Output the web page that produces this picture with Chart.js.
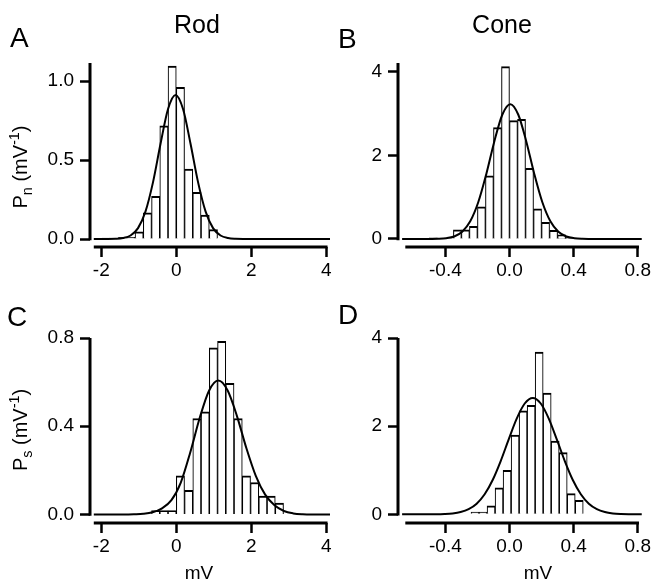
<!DOCTYPE html>
<html lang="en">
<head>
<meta charset="utf-8">
<title>Rod and cone response histograms</title>
<script src="https://cdn.jsdelivr.net/npm/chart.js@4/dist/chart.umd.min.js"></script>
<style>
  html, body { margin: 0; padding: 0; background: #fff; }
  #figure {
    position: relative; width: 658px; height: 584px; overflow: hidden;
    font-family: "Liberation Sans", Arial, Helvetica, sans-serif; color: #000;
  }
  #figure canvas { position: absolute; }
  .txt { position: absolute; line-height: 1; white-space: nowrap; }
  .letter { font-size: 28px; }
  .col-title { font-size: 25px; transform: translateX(-50%); }
  .x-title { font-size: 19px; transform: translateX(-50%); }
  .y-title { font-size: 20px; transform: translate(-50%, -50%) rotate(-90deg); }
  .y-title sub, .y-title sup { font-size: 0.72em; line-height: 0; }
</style>
</head>
<body>
<div id="figure">
  <canvas id="panelA" width="340" height="260" style="left:0;top:40px"></canvas>
  <canvas id="panelB" width="328" height="260" style="left:330px;top:40px"></canvas>
  <canvas id="panelC" width="340" height="260" style="left:0;top:310px"></canvas>
  <canvas id="panelD" width="328" height="260" style="left:330px;top:310px"></canvas>

  <div class="txt letter" style="left:10px;top:24px">A</div>
  <div class="txt letter" style="left:338px;top:25px">B</div>
  <div class="txt letter" style="left:7px;top:303px">C</div>
  <div class="txt letter" style="left:338px;top:301px">D</div>
  <div class="txt col-title" style="left:197px;top:12px">Rod</div>
  <div class="txt col-title" style="left:502px;top:12px">Cone</div>
  <div class="txt y-title" style="left:20px;top:167px">P<sub>n</sub> (mV<sup>-1</sup>)</div>
  <div class="txt y-title" style="left:20px;top:430px">P<sub>s</sub> (mV<sup>-1</sup>)</div>
  <div class="txt x-title" style="left:199px;top:563px">mV</div>
  <div class="txt x-title" style="left:538px;top:563px">mV</div>
</div>

<script>
// --- Data ---

// A: rod, noise trials (bins 0.22 mV wide, values are bin centres)
const rodNoiseBins    = [-1.87, -1.43, -1.21, -0.99, -0.77, -0.55, -0.33, -0.11, 0.11, 0.33, 0.55, 0.77, 0.99];
const rodNoiseDensity = [0.006, 0.01, 0.01, 0.045, 0.165, 0.27, 0.717, 1.095, 0.96, 0.443, 0.295, 0.152, 0.059];
const rodNoiseFitX = [-2.2, -1.82, -1.62, -1.42, -1.22, -1.02, -0.82, -0.62, -0.42, -0.22, -0.02, 0.18, 0.38, 0.58, 0.78, 0.98, 1.18, 1.38, 1.58, 1.78, 4.1];
const rodNoiseFitY = [0, 0, 0.001, 0.006, 0.022, 0.069, 0.175, 0.36, 0.603, 0.823, 0.912, 0.823, 0.603, 0.36, 0.175, 0.069, 0.022, 0.006, 0.001, 0, 0];

// B: cone, noise trials (bins 0.05 mV)
const coneNoiseBins    = [-0.475, -0.325, -0.275, -0.225, -0.175, -0.125, -0.075, -0.025, 0.025, 0.075, 0.125, 0.175, 0.225, 0.275, 0.325, 0.375];
const coneNoiseDensity = [0.03, 0.22, 0.22, 0.3, 0.77, 1.51, 2.66, 4.12, 2.83, 2.86, 1.69, 0.72, 0.4, 0.21, 0.1, 0.04];
const coneNoiseFitX = [-0.67, -0.545, -0.495, -0.445, -0.395, -0.345, -0.295, -0.245, -0.195, -0.145, -0.095, -0.045, 0.005, 0.055, 0.105, 0.155, 0.205, 0.255, 0.305, 0.355, 0.405, 0.455, 0.505, 0.555, 0.825];
const coneNoiseFitY = [0, 0, 0.001, 0.004, 0.018, 0.06, 0.173, 0.422, 0.877, 1.549, 2.326, 2.969, 3.22, 2.969, 2.326, 1.549, 0.877, 0.422, 0.173, 0.06, 0.018, 0.004, 0.001, 0, 0];

// C: rod, signal trials (bins 0.22 mV)
const rodSignalBins    = [-0.55, -0.33, -0.11, 0.11, 0.33, 0.55, 0.77, 0.99, 1.21, 1.43, 1.65, 1.87, 2.09, 2.31, 2.53, 2.75];
const rodSignalDensity = [0.018, 0.018, 0.018, 0.175, 0.11, 0.435, 0.465, 0.755, 0.785, 0.595, 0.435, 0.175, 0.145, 0.083, 0.083, 0.052];
const rodSignalFitX = [-2.2, -1.38, -1.13, -0.88, -0.63, -0.38, -0.13, 0.12, 0.37, 0.62, 0.87, 1.12, 1.37, 1.62, 1.87, 2.12, 2.37, 2.62, 2.87, 3.12, 3.37, 3.62, 4.1];
const rodSignalFitY = [0, 0, 0.001, 0.003, 0.01, 0.028, 0.065, 0.145, 0.28, 0.435, 0.56, 0.607, 0.562, 0.445, 0.3, 0.175, 0.09, 0.042, 0.016, 0.005, 0.001, 0, 0];

// D: cone, signal trials (bins 0.05 mV)
const coneSignalBins    = [-0.215, -0.165, -0.115, -0.065, -0.015, 0.035, 0.085, 0.135, 0.185, 0.235, 0.285, 0.335, 0.385, 0.435];
const coneSignalDensity = [0.05, 0.05, 0.19, 0.6, 1.0, 1.8, 2.35, 2.47, 3.68, 2.75, 1.66, 1.4, 0.47, 0.32];
const coneSignalFitX = [-0.67, -0.455, -0.405, -0.355, -0.305, -0.255, -0.205, -0.155, -0.105, -0.055, -0.005, 0.045, 0.095, 0.145, 0.195, 0.245, 0.295, 0.345, 0.395, 0.445, 0.495, 0.545, 0.595, 0.645, 0.695, 0.745, 0.825];
const coneSignalFitY = [0, 0.002, 0.007, 0.02, 0.051, 0.116, 0.241, 0.455, 0.779, 1.209, 1.701, 2.172, 2.514, 2.64, 2.514, 2.172, 1.701, 1.209, 0.779, 0.455, 0.241, 0.116, 0.051, 0.02, 0.007, 0.002, 0];

// Ticks
const rodTicksX = [-2, 0, 2, 4];
const rodTickLabelsX = ['-2', '0', '2', '4'];
const coneTicksX = [-0.4, 0, 0.4, 0.8];
const coneTickLabelsX = ['-0.4', '0.0', '0.4', '0.8'];
const rodNoiseTicksY = [0, 0.5, 1.0];
const rodNoiseTickLabelsY = ['0.0', '0.5', '1.0'];
const rodSignalTicksY = [0, 0.4, 0.8];
const rodSignalTickLabelsY = ['0.0', '0.4', '0.8'];
const coneTicksY = [0, 2, 4];
const coneTickLabelsY = ['0', '2', '4'];

Chart.defaults.font.family = '"Liberation Sans", Arial, Helvetica, sans-serif';
Chart.defaults.font.size = 19;
Chart.defaults.color = '#000';

// Igor-style detached axes: y axis stops at zero, x axis sits a little below it
const detachedAxes = {
    id: 'detachedAxes',
    afterDraw(chart, args, opts) {
        const { ctx, chartArea, scales: { x, y } } = chart;
        ctx.save();
        ctx.strokeStyle = '#000';
        ctx.lineWidth = 3;
        ctx.beginPath();
        ctx.moveTo(chartArea.left, y.getPixelForValue(0) + 1.25);
        ctx.lineTo(chartArea.left, chartArea.top);
        ctx.moveTo(x.getPixelForValue(opts.from), chartArea.bottom);
        ctx.lineTo(x.getPixelForValue(opts.to) + 1.25, chartArea.bottom);
        ctx.stroke();
        ctx.restore();
    }
};

const tickMarks = { display: true, drawOnChartArea: false, drawTicks: true, tickLength: 10, tickWidth: 2.5, tickColor: '#000', offset: false };

function makePanel(p) {
    const bars = p.bins.map((x, i) => ({ x, y: p.density[i] }));
    const fit = p.fitX.map((x, i) => ({ x, y: p.fitY[i] }));

    return new Chart(document.getElementById(p.id), {
        type: 'bar',
        data: {
            datasets: [
                {
                    type: 'line',
                    data: fit,
                    borderColor: '#000',
                    borderWidth: 2,
                    pointRadius: 0,
                    cubicInterpolationMode: 'monotone',
                    fill: false
                },
                {
                    type: 'bar',
                    data: bars,
                    backgroundColor: '#fff',
                    borderColor: '#000',
                    borderWidth: { top: 2, left: 1.1, right: 1.1, bottom: 0 },
                    borderSkipped: false,
                    barPercentage: 1,
                    categoryPercentage: 1
                }
            ]
        },
        options: {
            responsive: false,
            animation: false,
            events: [],
            layout: { padding: p.padding },
            plugins: {
                legend: { display: false },
                tooltip: { enabled: false },
                detachedAxes: { from: p.axisFrom, to: p.axisTo }
            },
            scales: {
                x: {
                    type: 'linear',
                    min: p.xMin,
                    max: p.xMax,
                    offset: false,
                    grid: tickMarks,
                    border: { display: false },
                    ticks: {
                        autoSkip: false, maxRotation: 0, padding: 2.5,
                        callback: (v, i) => p.xLabels[i]
                    },
                    afterBuildTicks: s => { s.ticks = p.xTicks.map(v => ({ value: v })); },
                    afterFit: s => { s.height = 40; }
                },
                y: {
                    type: 'linear',
                    min: p.yMin,
                    max: p.yMax,
                    grid: tickMarks,
                    border: { display: false },
                    ticks: {
                        autoSkip: false, padding: 6,
                        callback: (v, i) => p.yLabels[i]
                    },
                    afterBuildTicks: s => { s.ticks = p.yTicks.map(v => ({ value: v })); },
                    afterFit: s => { s.width = 60; }
                }
            }
        },
        plugins: [detachedAxes]
    });
}

const rodPad = { top: 23, right: 10, bottom: 13, left: 30 };
const conePad = { top: 23, right: 16, bottom: 13, left: 8 };

makePanel({
    id: 'panelA', bins: rodNoiseBins, density: rodNoiseDensity, fitX: rodNoiseFitX, fitY: rodNoiseFitY,
    xTicks: rodTicksX, xLabels: rodTickLabelsX, yTicks: rodNoiseTicksY, yLabels: rodNoiseTickLabelsY,
    xMin: -2.301, xMax: 4.099, yMin: -0.0506, yMax: 1.114, axisFrom: -2.2, axisTo: 4,
    padding: rodPad
});
makePanel({
    id: 'panelB', bins: coneNoiseBins, density: coneNoiseDensity, fitX: coneNoiseFitX, fitY: coneNoiseFitY,
    xTicks: coneTicksX, xLabels: coneTickLabelsX, yTicks: coneTicksY, yLabels: coneTickLabelsY,
    xMin: -0.6956, xMax: 0.8266, yMin: -0.1912, yMax: 4.2055, axisFrom: -0.65, axisTo: 0.8,
    padding: conePad
});
makePanel({
    id: 'panelC', bins: rodSignalBins, density: rodSignalDensity, fitX: rodSignalFitX, fitY: rodSignalFitY,
    xTicks: rodTicksX, xLabels: rodTickLabelsX, yTicks: rodSignalTicksY, yLabels: rodSignalTickLabelsY,
    xMin: -2.301, xMax: 4.099, yMin: -0.0385, yMax: 0.8, axisFrom: -2.2, axisTo: 4,
    padding: { top: 28, right: 10, bottom: 7, left: 30 }
});
makePanel({
    id: 'panelD', bins: coneSignalBins, density: coneSignalDensity, fitX: coneSignalFitX, fitY: coneSignalFitY,
    xTicks: coneTicksX, xLabels: coneTickLabelsX, yTicks: coneTicksY, yLabels: coneTickLabelsY,
    xMin: -0.6956, xMax: 0.8266, yMin: -0.197, yMax: 4, axisFrom: -0.65, axisTo: 0.8,
    padding: { top: 28, right: 16, bottom: 7, left: 8 }
});
</script>
</body>
</html>
